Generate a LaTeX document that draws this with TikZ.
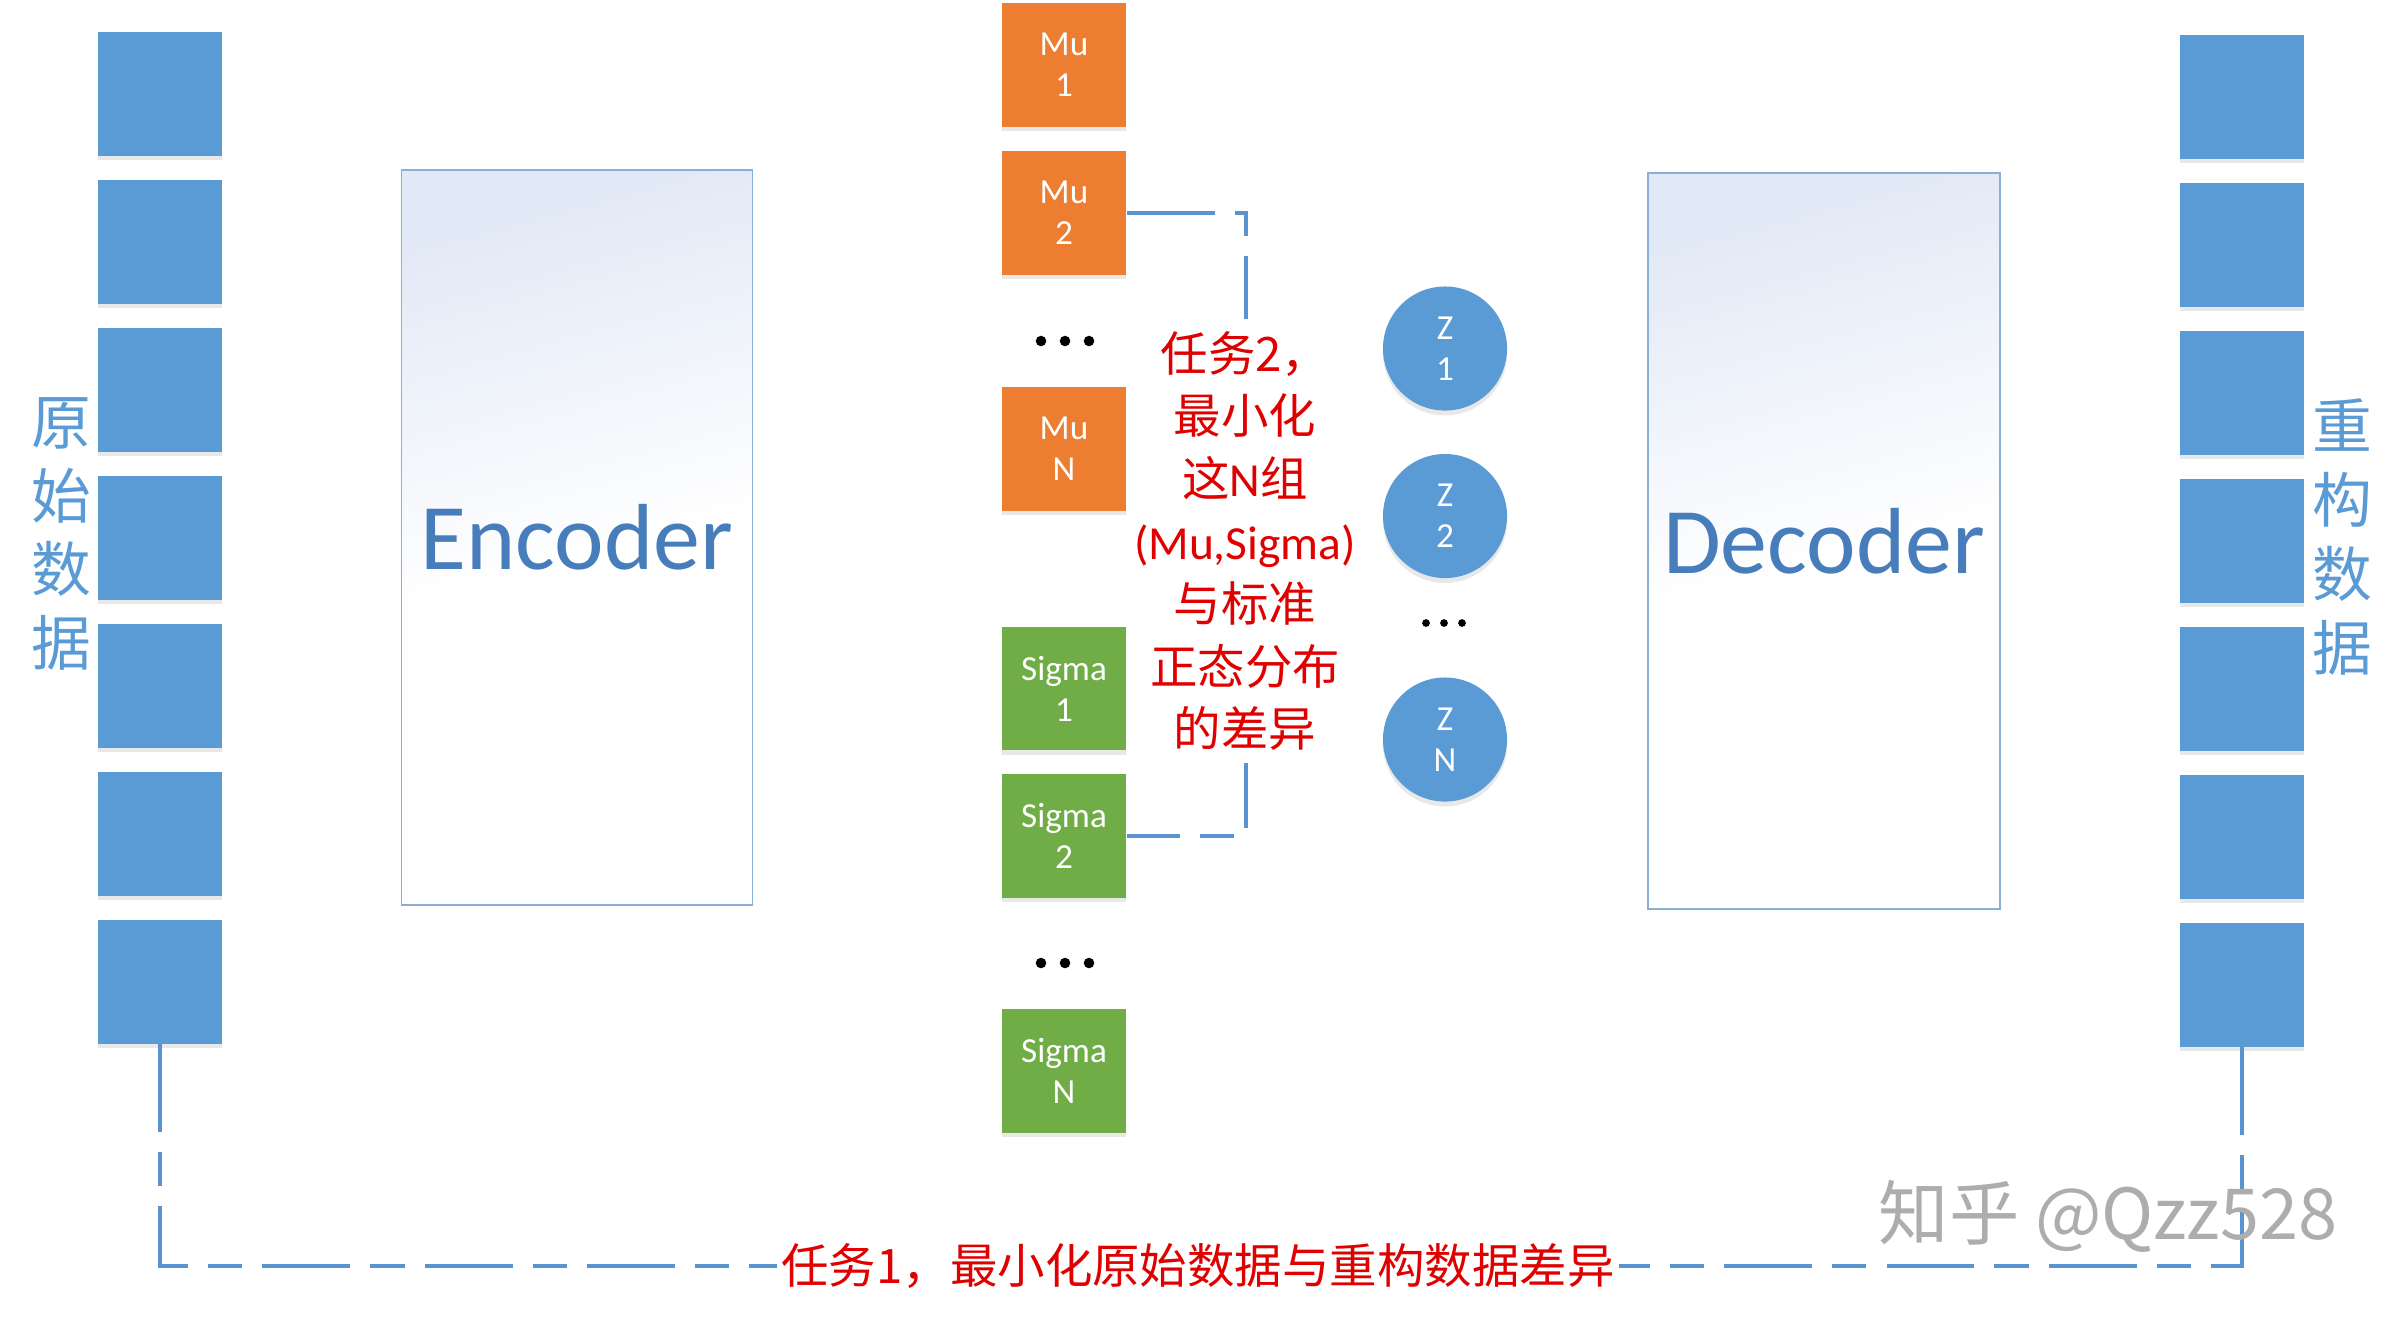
\documentclass[tikz,border=0pt]{standalone}
\usepackage{fontspec}
\setmainfont{Carlito}
\newfontfamily\cjk{Noto Sans CJK SC}
\usetikzlibrary{shadows}
\definecolor{boxblue}{HTML}{5B9BD5}
\definecolor{muorange}{HTML}{ED7D31}
\definecolor{siggreen}{HTML}{70AD47}
\definecolor{connblue}{HTML}{5B93CF}
\definecolor{codertext}{HTML}{477DBA}
\definecolor{coderline}{HTML}{8AAED4}
\definecolor{coderfill}{HTML}{E2E9F6}
\definecolor{taskred}{HTML}{E00000}
\pgfdeclareverticalshading{codershade}{100bp}{color(0bp)=(white); color(25bp)=(white); color(48bp)=(white); color(75bp)=(coderfill); color(100bp)=(coderfill)}
\begin{document}
\begin{tikzpicture}[x=0.01cm,y=-0.01cm,
  softshadow/.style={drop shadow={shadow xshift=0pt,shadow yshift=-1.4pt,opacity=0.18}},
  databox/.style={fill=boxblue,minimum width=1.24cm,minimum height=1.23cm,inner sep=0pt,softshadow},
  latent/.style={minimum width=1.24cm,minimum height=1.23cm,inner sep=0pt,text=white,
    font=\fontsize{10}{11.7}\selectfont,align=center,softshadow},
  mubox/.style={latent,fill=muorange},
  sigbox/.style={latent,fill=siggreen},
  zcirc/.style={circle,fill=boxblue,minimum size=1.24cm,inner sep=0pt,text=white,
    font=\fontsize{10}{11.7}\selectfont,align=center,softshadow},
  coder/.style={draw=coderline,line width=0.45pt,shade,shading=codershade,shading angle=15,
    inner sep=0pt,text=codertext,font=\fontsize{26.7}{30}\selectfont},
  conn/.style={draw=connblue,line width=1.2pt,dash pattern=on 25pt off 5.7pt on 9.7pt off 5.7pt},
  sidelabel/.style={text=boxblue,font=\cjk\fontsize{17}{21}\selectfont,align=center,inner sep=0pt},
  redtext/.style={text=taskred,font=\cjk\fontsize{13.5}{17.8}\selectfont,align=center,inner sep=1pt}
]
\useasboundingbox (0,0) rectangle (2403,1320);

% input data column
\foreach \i in {1,...,7}{
  \node[databox] (l\i) at (160,{94+148*(\i-1)}) {};
  \node[databox] (r\i) at (2242,{97+148*(\i-1)}) {};
}
\node[sidelabel] (lablef) at (61,534) {原\\始\\数\\据};
\node[sidelabel] (labrig) at (2342,537) {重\\构\\数\\据};

% encoder / decoder
\node[coder,minimum width=3.51cm,minimum height=7.35cm] (enc) at (577,537.5) {Encoder};
\node[coder,minimum width=3.52cm,minimum height=7.36cm] (dec) at (1824,541) {Decoder};

% mu / sigma column
\node[mubox] (mu1) at (1064,65) {Mu\\1};
\node[mubox] (mu2) at (1064,213) {Mu\\2};
\node[mubox] (muN) at (1064,449) {Mu\\N};
\node[sigbox] (sig1) at (1064,688.5) {Sigma\\1};
\node[sigbox] (sig2) at (1064,836) {Sigma\\2};
\node[sigbox] (sigN) at (1064,1071) {Sigma\\N};
\foreach \x in {1041,1065,1089}{
  \fill (\x,341) circle[radius=1.5pt];
  \fill (\x,963) circle[radius=1.5pt];
}

% latent z
\node[zcirc] (z1) at (1445,348.5) {Z\\1};
\node[zcirc] (z2) at (1445,516) {Z\\2};
\node[zcirc] (zN) at (1445,739.5) {Z\\N};
\foreach \x in {1426,1444,1462}{
  \fill (\x,623) circle[radius=1.1pt];
}

% task 2
\node[redtext] (task2) at (1245,541) {任务2，\\最小化\\这{\fontspec{Carlito}N}组\\{\fontspec{Carlito}(Mu,Sigma)}\\与标准\\正态分布\\的差异};
\coordinate (t2a) at (1246,319);
\coordinate (t2b) at (1246,763);
\draw[conn] (mu2.east) -| (t2a);
\draw[conn,dash phase=6.5pt] (t2b) |- (sig2.east);

% task 1
\node[redtext] (task1) at (1198,1266) {任务1，最小化原始数据与重构数据差异};
\draw[conn] (l7.south) |- (task1.west);
\draw[conn] (r7.south) |- (task1.east);

% watermark
\node[text=black!32,font=\cjk\fontsize{20}{24}\selectfont,inner sep=0pt] (wm) at (2108,1216) {知乎 @Qzz528};
\end{tikzpicture}
\end{document}
